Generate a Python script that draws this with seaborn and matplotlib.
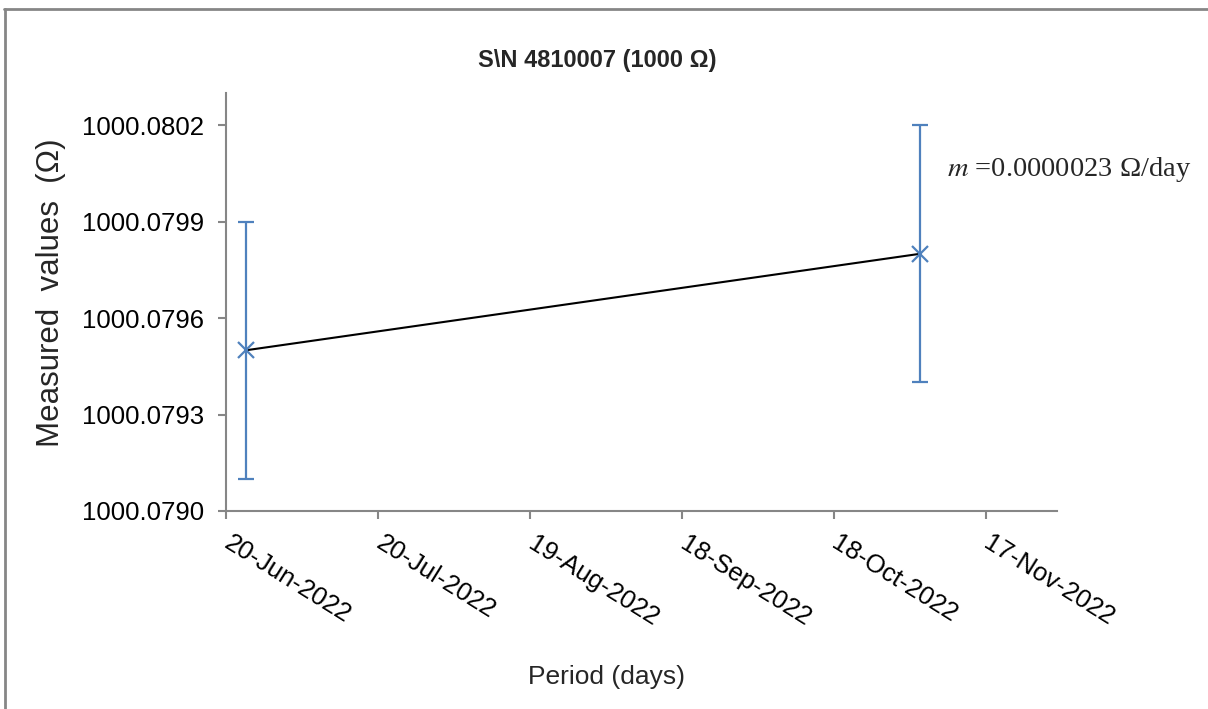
import pandas as pd
import matplotlib
matplotlib.use('Agg')
from matplotlib import pyplot as plt
import matplotlib.dates as mdates
from matplotlib.lines import Line2D
from matplotlib.ticker import FormatStrFormatter
import seaborn as sns

dates = pd.to_datetime(['2022-06-24', '2022-11-04'])
values = [1000.0795, 1000.0798]
uncertainty = [0.0004, 0.0004]
slope_text = '$m$ =0.0000023 Ω/day'
title = 'S\\N 4810007 (1000 Ω)'

# Axis setup
x_start = pd.Timestamp('2022-06-20')
x_end = pd.Timestamp('2022-12-01')
x_ticks = pd.date_range(x_start, periods=6, freq='30D')
y_ticks = [1000.0790, 1000.0793, 1000.0796, 1000.0799, 1000.0802]

sns.set_style('white')
plt.rcParams['font.family'] = ['Liberation Sans', 'DejaVu Sans']
plt.rcParams['mathtext.fontset'] = 'stix'

axis_grey = '#868686'
blue = '#4F81BD'

fig, ax = plt.subplots(figsize=(12.08, 7.09), dpi=100)
fig.subplots_adjust(left=0.1871, right=0.875, bottom=0.2793, top=0.8688)

df = pd.DataFrame({'date': dates, 'value': values, 'err': uncertainty})

# Black trend line between the measurements
sns.lineplot(data=df, x='date', y='value', color='black', linewidth=1.5, ax=ax)

# Blue markers with uncertainty bars
ax.errorbar(df['date'], df['value'], yerr=df['err'], fmt='x', color=blue,
            markersize=11, markeredgewidth=1.6, elinewidth=1.6,
            capsize=6, capthick=1.6, zorder=3)

ax.set_xlim(x_start, x_end)
ax.set_ylim(1000.0790, 1000.0803)
ax.set_xticks(x_ticks)
ax.xaxis.set_major_formatter(mdates.DateFormatter('%d-%b-%Y'))
ax.set_yticks(y_ticks)
ax.yaxis.set_major_formatter(FormatStrFormatter('%.4f'))

ax.tick_params(axis='both', which='major', bottom=True, left=True,
               direction='out', length=6, width=1.5,
               color=axis_grey, labelsize=18.5, labelcolor='black')
ax.tick_params(axis='y', pad=10)
ax.tick_params(axis='x', pad=16)

for label in ax.get_xticklabels():
    label.set_rotation(-32)
    label.set_ha('left')
    label.set_va('center')
    label.set_rotation_mode('anchor')

sns.despine(ax=ax)
for side in ['left', 'bottom']:
    ax.spines[side].set_color(axis_grey)
    ax.spines[side].set_linewidth(1.5)

ax.set_xlabel('')
ax.set_ylabel('')

# Titles and labels placed like the original chart
fig.text(597 / 1208, 1 - 61 / 709, title, ha='center', va='center',
         fontsize=17, fontweight='bold')
fig.text(607 / 1208, 1 - 677 / 709, 'Period (days)', ha='center', va='center',
         fontsize=19)
fig.text(51 / 1208, 1 - 293 / 709, 'Measured  values  (Ω)', ha='center',
         va='center', rotation=90, fontsize=22.5)

ax.text(947 / 1208, 1 - 170 / 709, slope_text, transform=fig.transFigure,
        ha='left', va='center', fontsize=20.5,
        family=['Liberation Serif', 'DejaVu Serif'])

# Outer chart-area border
fig.add_artist(Line2D([4 / 1208, 1], [1 - 9 / 709, 1 - 9 / 709],
                      color=axis_grey, linewidth=2, transform=fig.transFigure))
fig.add_artist(Line2D([5 / 1208, 5 / 1208], [0, 1 - 9 / 709],
                      color=axis_grey, linewidth=2, transform=fig.transFigure))

plt.savefig('out.png', dpi=100)
